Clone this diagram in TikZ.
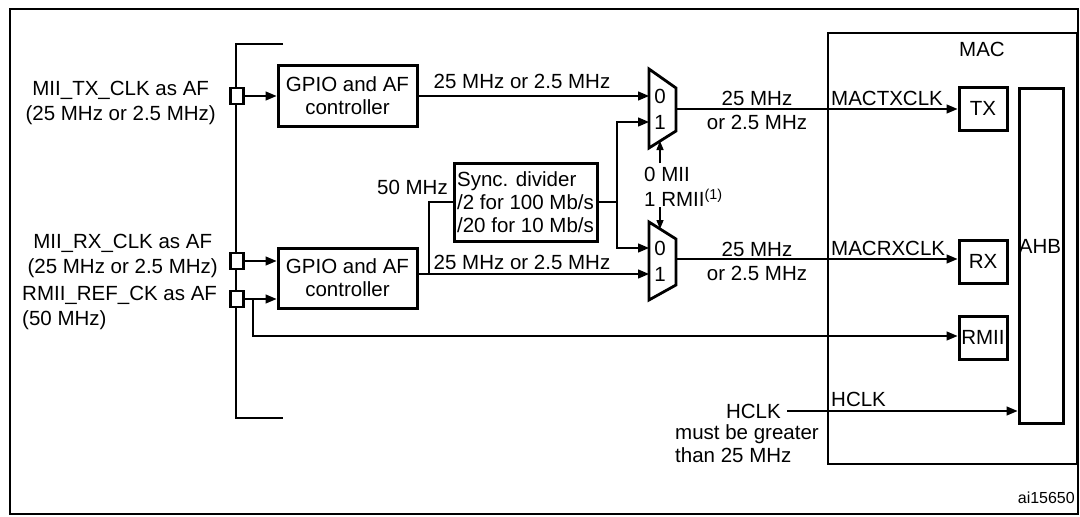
\documentclass[tikz,border=0pt]{standalone}
\usepackage{fontspec}
\setmainfont{Liberation Sans}
\usetikzlibrary{arrows.meta}
\begin{document}
\begin{tikzpicture}[x=1pt,y=-1pt,
  font=\fontsize{20.5}{23}\selectfont,
  ln/.style={line width=1.4pt},
  arr/.style={ln,-{Triangle[length=11pt,width=9pt]}},
  box/.style={draw,line width=3pt,inner sep=0pt},
  pin/.style={draw,line width=2.8pt,minimum width=13pt,minimum height=16pt,inner sep=0pt},
  lab/.style={inner sep=0pt}]
\useasboundingbox (0,0) rectangle (1080,517);
\draw[line width=2.4pt] (10,9) -- (1078,9) -- (1078,514) -- (10,514) -- cycle;
% bracket
\draw[ln] (283,44) -- (236,44) -- (236,418) -- (283,418);
% pins
\node[pin,fill=white] (ptx) at (237,96) {};
\node[pin,fill=white] (prx) at (237,261) {};
\node[pin,fill=white] (prm) at (237,299) {};
% left labels
\node[lab,align=center,anchor=east] (ltx) at (216,103) {MII\_TX\_CLK as AF\\[2pt](25 MHz or 2.5 MHz)};
\node[lab,align=center,anchor=east] (lrx) at (218,256) {MII\_RX\_CLK as AF\\[2pt](25 MHz or 2.5 MHz)};
\node[lab,align=left,anchor=north west] (lrm) at (22,286) {RMII\_REF\_CK as AF\\[2pt](50 MHz)};
% GPIO boxes
\node[box,minimum width=139pt,minimum height=61pt,align=center] (g1) at (347.5,95.5) {GPIO and AF\\controller};
\node[box,minimum width=139pt,minimum height=60pt,align=center] (g2) at (347.5,278) {GPIO and AF\\controller};
\draw[arr] (ptx.east) -- (ptx.east -| g1.west);
\draw[arr] (prx.east) -- (prx.east -| g2.west);
\draw[arr] (prm.east) -- (prm.east -| g2.west);
% sync divider
\node[box,minimum width=143pt,minimum height=78pt,align=left] (sd) at (525.5,202) {Sync. divider\\/2 for 100 Mb/s\\/20 for 10 Mb/s};
\node[lab,anchor=east] (l50) at (448,187) {50 MHz};
% muxes
\draw[line width=2.8pt] (649,69) -- (676,88) -- (676,131) -- (649,148) -- cycle;
\draw[line width=2.8pt] (649,222) -- (676,239) -- (676,285) -- (649,300) -- cycle;
\node[lab] (m10) at (660,96) {0};
\node[lab] (m11) at (660,122) {1};
\node[lab] (m20) at (660,248) {0};
\node[lab] (m21) at (660,274) {1};
\coordinate (m1i0) at (649,96);
\coordinate (m1i1) at (649,122);
\coordinate (m2i0) at (649,248);
\coordinate (m2i1) at (649,274);
\coordinate (m1o) at (676,109);
\coordinate (m2o) at (676,259);
\coordinate (m1s) at (660,141);
\coordinate (m2s) at (660,229);
% GPIO outputs
\draw[arr] (g1.east |- m1i0) -- (m1i0);
\node[lab] (l25a) at (522,81) {25 MHz or 2.5 MHz};
\draw[arr] (g2.east |- m2i1) -- (m2i1);
\node[lab] (l25b) at (522,262) {25 MHz or 2.5 MHz};
\coordinate (br) at (429,274);
\draw[ln] (br) -- (429,202) -- (sd.west);
% sync outputs
\coordinate (so) at (617,202);
\draw[ln] (sd.east) -- (so);
\draw[arr] (so) |- (m1i1);
\draw[arr] (so) |- (m2i0);
% select
\node[lab,anchor=west] (smii) at (644,174) {0 MII};
\node[lab,anchor=west] (srmii) at (644,198) {1 RMII\textsuperscript{(1)}};
\coordinate (s1) at (660,163);
\coordinate (s2) at (660,207);
\draw[ln,-{Triangle[length=9pt,width=7pt]}] (s1) -- (m1s);
\draw[ln,-{Triangle[length=9pt,width=7pt]}] (s2) -- (m2s);
% MAC
\draw[line width=2.8pt] (828,33) -- (1077,33) -- (1077,464) -- (828,464) -- cycle;
\node[lab] (mac) at (982,49) {MAC};
\node[box,minimum width=48pt,minimum height=43pt] (tx) at (983,108.5) {TX};
\node[box,minimum width=48pt,minimum height=43pt] (rx) at (983,261.5) {RX};
\node[box,minimum width=48pt,minimum height=43pt] (rmii) at (983,337.5) {RMII};
\node[box,minimum width=44pt,minimum height=335pt] (ahb) at (1041,255.5) {};
\node[lab] (ahbl) at (1040,246) {AHB};
\draw[arr] (m1o) -- (tx.west |- m1o);
\draw[arr] (m2o) -- (rx.west |- m2o);
\node[lab,anchor=south west] (ltxc) at (831,106) {MACTXCLK};
\node[lab,anchor=south west] (lrxc) at (831,256) {MACRXCLK};
\node[lab] (o1a) at (757,98) {25 MHz};
\node[lab] (o1b) at (757,122) {or 2.5 MHz};
\node[lab] (o2a) at (757,249) {25 MHz};
\node[lab] (o2b) at (757,273) {or 2.5 MHz};
\coordinate (rb) at (253,299);
\draw[arr] (rb) -- (253,336) -- (rmii.west |- 0,336);
% HCLK
\node[lab,anchor=east] (hclk) at (781,411) {HCLK};
\draw[arr] (hclk.east) ++(6,0) coordinate (h0) -- (ahb.west |- h0);
\node[lab,anchor=south west] (hclk2) at (831,407) {HCLK};
\node[lab,anchor=north west,align=left] (must) at (675,424) {must be greater\\than 25 MHz};
\node[lab,anchor=east,font=\fontsize{16}{18}\selectfont] (ai) at (1075,498) {ai15650};
\end{tikzpicture}
\end{document}
